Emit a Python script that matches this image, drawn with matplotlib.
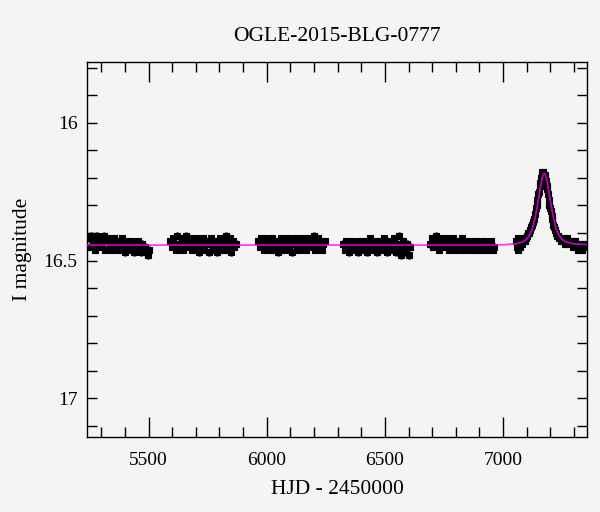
import matplotlib
matplotlib.use("Agg")
import matplotlib.pyplot as plt
from matplotlib.ticker import MultipleLocator, FixedLocator, FixedFormatter

# ---------------- data ----------------
title = "OGLE-2015-BLG-0777"
xlabel = "HJD - 2450000"
ylabel = "I magnitude"

t1 = [5245, 5251, 5257, 5263, 5269, 5275, 5281, 5287, 5293, 5299, 5305, 5311, 5317, 5323, 5329,
      5335, 5341, 5347, 5353, 5359, 5365, 5371, 5377, 5383, 5389, 5395, 5401, 5407, 5413, 5419,
      5425, 5431, 5437, 5443, 5449, 5455, 5461, 5467, 5473, 5479, 5485, 5491, 5497, 5503]
m1 = [16.42, 16.45, 16.41, 16.44, 16.42, 16.46, 16.41, 16.43, 16.45, 16.42, 16.44, 16.41, 16.46, 16.43, 16.42,
      16.45, 16.43, 16.46, 16.42, 16.44, 16.45, 16.43, 16.46, 16.44, 16.42, 16.45, 16.47, 16.43, 16.44, 16.46,
      16.43, 16.45, 16.47, 16.44, 16.46, 16.43, 16.45, 16.47, 16.44, 16.46, 16.45, 16.47, 16.48, 16.46]

t2 = [5592, 5598, 5604, 5610, 5616, 5622, 5628, 5634, 5640, 5646, 5652, 5658, 5664, 5670, 5676, 5682,
      5688, 5694, 5700, 5706, 5712, 5718, 5724, 5730, 5736, 5742, 5748, 5754, 5760, 5766, 5772, 5778,
      5784, 5790, 5796, 5802, 5808, 5814, 5820, 5826, 5832, 5838, 5844, 5850, 5856, 5862, 5868]
m2 = [16.43, 16.45, 16.42, 16.44, 16.46, 16.41, 16.44, 16.45, 16.42, 16.46, 16.43, 16.41, 16.45, 16.44, 16.42, 16.46,
      16.43, 16.45, 16.42, 16.44, 16.47, 16.43, 16.45, 16.42, 16.46, 16.44, 16.43, 16.47, 16.44, 16.42, 16.46, 16.45,
      16.43, 16.47, 16.44, 16.42, 16.46, 16.43, 16.45, 16.41, 16.46, 16.44, 16.42, 16.47, 16.43, 16.45, 16.44]

t3 = [5964, 5970, 5976, 5982, 5988, 5994, 6000, 6006, 6012, 6018, 6024, 6030, 6036, 6042, 6048, 6054,
      6060, 6066, 6072, 6078, 6084, 6090, 6096, 6102, 6108, 6114, 6120, 6126, 6132, 6138, 6144, 6150,
      6156, 6162, 6168, 6174, 6180, 6186, 6192, 6198, 6204, 6210, 6216, 6222, 6228, 6234, 6240, 6245]
m3 = [16.43, 16.45, 16.42, 16.44, 16.46, 16.42, 16.44, 16.45, 16.43, 16.46, 16.42, 16.44, 16.45, 16.43, 16.47, 16.44,
      16.42, 16.46, 16.43, 16.45, 16.44, 16.42, 16.46, 16.43, 16.47, 16.44, 16.42, 16.45, 16.43, 16.46, 16.44, 16.42,
      16.45, 16.43, 16.46, 16.42, 16.44, 16.45, 16.43, 16.41, 16.46, 16.44, 16.42, 16.45, 16.43, 16.46, 16.44, 16.43]

t4 = [6324, 6330, 6336, 6342, 6348, 6354, 6360, 6366, 6372, 6378, 6384, 6390, 6396, 6402, 6408, 6414,
      6420, 6426, 6432, 6438, 6444, 6450, 6456, 6462, 6468, 6474, 6480, 6486, 6492, 6498, 6504, 6510,
      6516, 6522, 6528, 6534, 6540, 6546, 6552, 6558, 6564, 6570, 6576, 6582, 6588, 6594, 6600, 6605]
m4 = [16.44, 16.46, 16.43, 16.45, 16.47, 16.44, 16.43, 16.46, 16.44, 16.45, 16.47, 16.43, 16.45, 16.44, 16.46, 16.43,
      16.45, 16.47, 16.44, 16.42, 16.46, 16.44, 16.45, 16.43, 16.47, 16.45, 16.43, 16.46, 16.44, 16.42, 16.45, 16.47,
      16.44, 16.43, 16.46, 16.45, 16.42, 16.47, 16.44, 16.41, 16.46, 16.48, 16.43, 16.45, 16.47, 16.44, 16.48, 16.45]

t5 = [6692, 6698, 6704, 6710, 6716, 6722, 6728, 6734, 6740, 6746, 6752, 6758, 6764, 6770, 6776, 6782,
      6788, 6794, 6800, 6806, 6812, 6818, 6824, 6830, 6836, 6842, 6848, 6854, 6860, 6866, 6872, 6878,
      6884, 6890, 6896, 6902, 6908, 6914, 6920, 6926, 6932, 6938, 6944, 6950, 6956, 6962]
m5 = [16.44, 16.42, 16.45, 16.43, 16.41, 16.44, 16.46, 16.42, 16.44, 16.43, 16.45, 16.42, 16.44, 16.46, 16.43, 16.45,
      16.42, 16.44, 16.46, 16.43, 16.45, 16.44, 16.42, 16.46, 16.44, 16.43, 16.45, 16.44, 16.46, 16.43, 16.45, 16.44,
      16.46, 16.43, 16.45, 16.44, 16.46, 16.44, 16.43, 16.45, 16.46, 16.44, 16.45, 16.43, 16.46, 16.45]

t6 = [7055, 7058, 7061, 7064, 7067, 7070, 7073, 7076, 7079, 7083, 7087, 7091, 7095, 7099, 7103, 7107,
      7111, 7115, 7119, 7123, 7127, 7131, 7135, 7139, 7142, 7145, 7148, 7151, 7154, 7157, 7160, 7163,
      7166, 7169, 7172, 7175, 7178, 7181, 7184, 7187, 7190, 7193, 7196, 7199, 7202, 7205, 7208, 7212,
      7216, 7220, 7224, 7228, 7232, 7236, 7240, 7245, 7250, 7255, 7260, 7265, 7270, 7275, 7280, 7285,
      7290, 7295, 7300, 7305, 7310, 7315, 7320, 7325, 7330, 7335, 7340, 7345, 7350]
m6 = [16.43, 16.45, 16.42, 16.46, 16.44, 16.43, 16.45, 16.42, 16.44, 16.43, 16.42, 16.43, 16.42, 16.41, 16.41, 16.40,
      16.40, 16.39, 16.38, 16.37, 16.36, 16.35, 16.33, 16.31, 16.30, 16.28, 16.26, 16.25, 16.23, 16.22, 16.20, 16.19,
      16.18, 16.18, 16.19, 16.19, 16.20, 16.21, 16.23, 16.24, 16.26, 16.28, 16.30, 16.31, 16.32, 16.34, 16.35, 16.37,
      16.38, 16.39, 16.40, 16.41, 16.41, 16.42, 16.42, 16.43, 16.42, 16.43, 16.44, 16.43, 16.42, 16.43, 16.44, 16.43,
      16.44, 16.45, 16.44, 16.43, 16.45, 16.46, 16.44, 16.45, 16.44, 16.46, 16.45, 16.44, 16.45]

season_t = [t1, t2, t3, t4, t5, t6]
season_m = [m1, m2, m3, m4, m5, m6]
season_err = [0.013, 0.013, 0.013, 0.013, 0.013, 0.010]

model_t = [5241, 6900, 7000, 7054, 7084, 7099, 7114, 7124, 7134, 7139, 7144, 7149, 7154, 7159, 7164,
           7169, 7174, 7179, 7184, 7189, 7194, 7199, 7204, 7209, 7214, 7224, 7234, 7249, 7264, 7294, 7356]
model_m = [16.444, 16.444, 16.443, 16.439, 16.432, 16.423, 16.405, 16.383, 16.350, 16.328, 16.305,
           16.280, 16.253, 16.228, 16.205, 16.190, 16.184, 16.190, 16.205, 16.228, 16.253, 16.280,
           16.305, 16.328, 16.350, 16.383, 16.405, 16.423, 16.432, 16.439, 16.442]

x_major = [5500, 6000, 6500, 7000]
x_major_labels = ["5500", "6000", "6500", "7000"]
y_major = [16.0, 16.5, 17.0]
y_major_labels = ["16", "16.5", "17"]

# ---------------- figure ----------------
bg = "#f4f4f4"
plt.rcParams["font.family"] = ["Liberation Serif", "DejaVu Serif"]

fig = plt.figure(figsize=(6.0, 5.12), dpi=100, facecolor=bg)
ax = fig.add_axes([87.3 / 600, 1 - 437 / 512, 500 / 600, (437 - 62.3) / 512])
ax.set_facecolor(bg)

for t, m, e in zip(season_t, season_m, season_err):
    ax.errorbar(t, m, yerr=e, fmt="s", color="black", ms=4.6, mew=0.8,
                elinewidth=2.0, capsize=0, zorder=2)

ax.plot(model_t, model_m, color="#ff00ff", lw=1.3, alpha=0.75, zorder=3)

ax.set_xlim(5241, 7356)
ax.set_ylim(17.140, 15.781)

ax.xaxis.set_major_locator(FixedLocator(x_major))
ax.xaxis.set_major_formatter(FixedFormatter(x_major_labels))
ax.xaxis.set_minor_locator(MultipleLocator(100))
ax.yaxis.set_major_locator(FixedLocator(y_major))
ax.yaxis.set_major_formatter(FixedFormatter(y_major_labels))
ax.yaxis.set_minor_locator(MultipleLocator(0.1))

ax.tick_params(axis="both", which="both", direction="in", top=True, right=True,
               colors="black", width=1.0, labelsize=14)
ax.tick_params(axis="x", which="major", length=14.4, pad=11)
ax.tick_params(axis="x", which="minor", length=7.2)
ax.tick_params(axis="y", which="both", length=7.2, pad=7)

for s in ax.spines.values():
    s.set_linewidth(1.0)
    s.set_color("black")

ax.set_title(title, fontsize=15.5, pad=15)
ax.set_xlabel(xlabel, fontsize=15.5, labelpad=8)
ax.set_ylabel(ylabel, fontsize=15.5, labelpad=8)

fig.savefig("out.png", dpi=100, facecolor=bg)
